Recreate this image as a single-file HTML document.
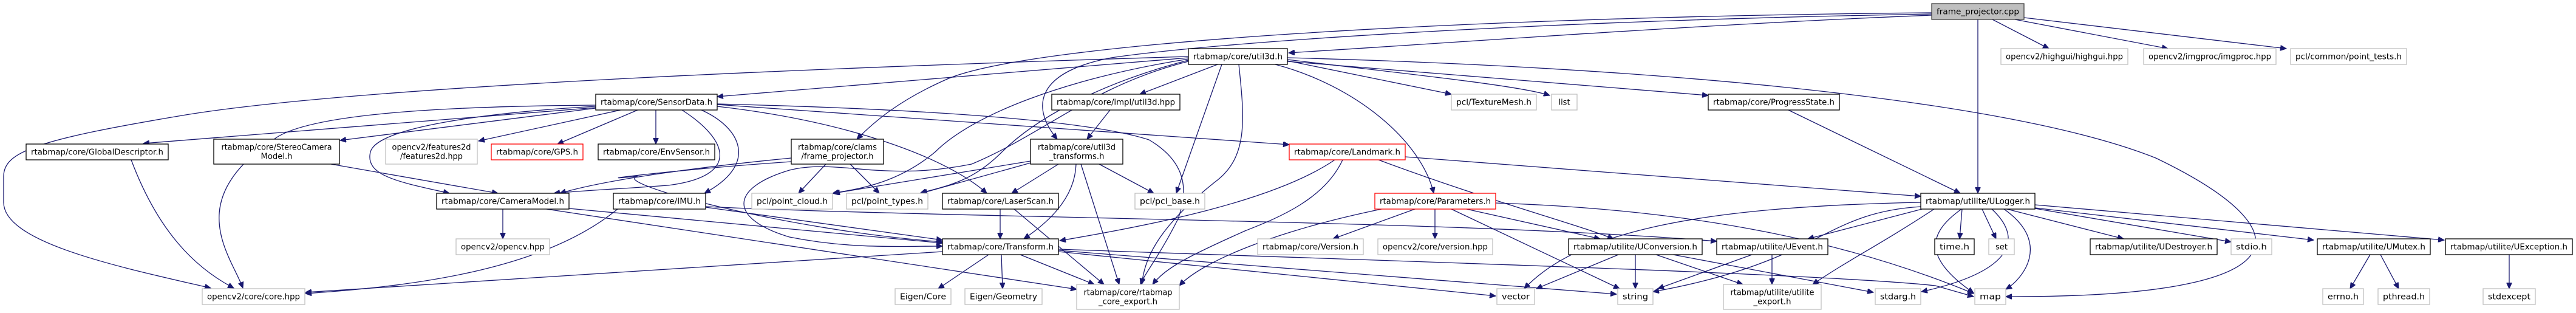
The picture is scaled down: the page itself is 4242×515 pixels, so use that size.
<!DOCTYPE html>
<html><head><meta charset="utf-8"><style>
html,body{margin:0;padding:0;background:#fff;}
svg{display:block;}
text{font-family:"DejaVu Sans","Liberation Sans",sans-serif;font-size:13px;fill:#000;}
.e{fill:none;stroke:#191970;stroke-width:1.3;}
.n{fill:#fff;stroke:#000;stroke-width:1.3;}
.g{fill:#fff;stroke:#bfbfbf;stroke-width:1.3;}
.r{fill:#fff;stroke:#ff0000;stroke-width:1.3;}
.root{fill:#bfbfbf;stroke:#404040;stroke-width:1.3;}
</style></head><body>
<svg width="4242" height="515" viewBox="0 0 4242 515" xmlns="http://www.w3.org/2000/svg">
<defs><marker id="a" markerUnits="userSpaceOnUse" markerWidth="11" markerHeight="9" refX="10" refY="4.5" orient="auto"><path d="M0,0 L10,4.5 L0,9 z" fill="#191970" stroke="#191970"/></marker></defs>
<g class="e" marker-end="url(#a)">
<!-- cpp -->
<path d="M3181,25 C2800,40 2400,70 2122,87"/>
<path d="M3181,21 C2400,28 1700,70 1560,130 C1480,165 1440,200 1411,229"/>
<path d="M3181,23 C2500,35 2000,70 1830,95 C1700,120 1700,180 1741,229"/>
<path d="M3257,32 L3257,318"/>
<path d="M3281,32 L3374,80"/>
<path d="M3318,32 L3570,80"/>
<path d="M3333,29 L3765,80"/>
<!-- util3d -->
<path d="M1957,95 L1181,159"/>
<path d="M1957,93 C1400,110 600,140 300,190 C60,230 6,250 6,290 L6,333 C6,400 200,440 347,474"/>
<path d="M2100,106 C2230,140 2340,230 2361,318"/>
<path d="M1957,97 C1750,130 1600,190 1540,250 C1480,300 1420,310 1371,318"/>
<path d="M1957,99 C1800,140 1700,200 1650,250 C1600,300 1560,305 1515,318"/>
<path d="M1957,101 C1800,140 1720,220 1600,270 C1450,300 1380,260 1300,280 C1200,310 1200,360 1300,390 C1400,410 1480,405 1552,405"/>
<path d="M2005,106 L1877,155"/>
<path d="M2012,106 L1937,318"/>
<path d="M2040,106 C2050,200 2055,260 2000,300 C1900,380 1885,430 1880,468"/>
<path d="M2120,100 L2390,155"/>
<path d="M2120,98 C2300,120 2500,140 2552,157"/>
<path d="M2120,101 L2813,157"/>
<path d="M2120,95 C2700,110 3300,160 3550,260 C3800,380 3800,490 3303,488"/>
<!-- SensorData -->
<path d="M981,177 L236,236"/>
<path d="M981,178 L560,231"/>
<path d="M1022,181 L788,232"/>
<path d="M1050,181 L918,237"/>
<path d="M1080,181 L1080,237"/>
<path d="M1155,181 C1220,210 1250,270 1160,318"/>
<path d="M1123,181 C1200,230 1220,290 1100,305 C1000,312 940,315 912,318"/>
<path d="M981,173 C700,175 500,190 450,230 C300,330 380,420 400,474"/>
<path d="M981,175 C800,185 620,210 610,250 C600,290 660,300 740,318"/>
<path d="M1181,175 C1400,200 1560,260 1625,318"/>
<path d="M1181,172 L2123,238"/>
<path d="M1181,171 C1550,180 1800,200 1892,230 C1960,270 1954,320 1940,360 C1910,420 1885,450 1878,468"/>
<!-- frame_projector.h -->
<path d="M1360,270 L1315,318"/>
<path d="M1400,270 L1448,318"/>
<path d="M1303,260 C1150,275 1000,295 922,318"/>
<path d="M1303,266 C1100,280 950,300 1050,290 C1000,300 1300,380 1552,398"/>
<!-- util3d_transforms -->
<path d="M1697,265 L1373,318"/>
<path d="M1697,268 L1517,318"/>
<path d="M1743,270 L1666,318"/>
<path d="M1772,270 C1770,330 1720,370 1686,393"/>
<path d="M1810,270 L1900,318"/>
<path d="M1780,270 L1843,468"/>
<path d="M1828,181 L1790,229"/>
<!-- misc -->
<path d="M545,270 L820,318"/>
<path d="M216,263 C260,380 320,440 385,474"/>
<path d="M828,344 L828,393"/>
<path d="M937,343 L1552,400"/>
<path d="M900,344 L1773,476"/>
<path d="M1017,344 C900,440 700,470 503,483"/>
<path d="M1162,341 L1552,395"/>
<path d="M1162,340 C1600,360 2400,362 2827,397"/>
<path d="M1647,344 L1647,393"/>
<path d="M1670,344 L1818,468"/>
<!-- Transform -->
<path d="M1628,419 L1545,475"/>
<path d="M1649,419 L1651,475"/>
<path d="M1680,419 L1802,468"/>
<path d="M1552,414 L503,481"/>
<path d="M1743,414 L2463,487"/>
<path d="M1743,412 L2662,484"/>
<path d="M1743,410 C2300,430 3000,450 3187,470 L3250,488"/>
<!-- Landmark -->
<path d="M2314,258 L3163,323"/>
<path d="M2198,263 C2100,330 1900,370 1745,396"/>
<path d="M2211,263 C2180,330 2100,360 2050,380 C1960,420 1920,440 1898,468"/>
<path d="M2270,263 C2450,330 2600,370 2657,393"/>
<!-- Parameters -->
<path d="M2330,344 L2195,393"/>
<path d="M2363,344 L2363,393"/>
<path d="M2415,344 L2635,393"/>
<path d="M2390,344 L2667,475"/>
<path d="M2275,344 C2100,380 1980,430 1942,470"/>
<path d="M2463,334 C2800,345 3050,400 3250,483"/>
<path d="M2945,181 L3228,318"/>
<!-- ULogger -->
<path d="M3231,344 L3227,393"/>
<path d="M3264,344 L3287,393"/>
<path d="M3305,344 L3497,393"/>
<path d="M3351,343 L3674,398"/>
<path d="M3351,342 L3810,395"/>
<path d="M3351,337 L4025,395"/>
<path d="M3280,344 C3340,400 3300,450 3164,480"/>
<path d="M3300,344 C3380,400 3330,460 3303,476"/>
<path d="M3230,344 C3180,380 3160,420 3250,482"/>
<path d="M3163,340 C3000,350 3000,430 2722,480"/>
<path d="M3163,333 C2800,340 2600,380 2510,475"/>
<path d="M3165,344 L2977,393"/>
<path d="M3185,344 C3100,400 3040,430 2985,468"/>
<!-- UConversion etc -->
<path d="M2665,419 L2530,475"/>
<path d="M2693,419 L2693,475"/>
<path d="M2727,419 L2870,468"/>
<path d="M2755,419 L3085,481"/>
<path d="M2885,419 L2730,475"/>
<path d="M2918,419 L2918,468"/>
<path d="M3903,419 L3870,475"/>
<path d="M3920,419 L3950,475"/>
<path d="M4132,419 L4132,475"/>
</g>
<!-- nodes -->
<rect class="root" x="3181" y="6" width="152" height="26"/><text x="3257" y="23.5" text-anchor="middle" textLength="136" lengthAdjust="spacingAndGlyphs">frame_projector.cpp</text>
<rect class="n" x="1957" y="80" width="163" height="26"/><text x="2038.5" y="97.5" text-anchor="middle" textLength="147" lengthAdjust="spacingAndGlyphs">rtabmap/core/util3d.h</text>
<rect class="g" x="3295" y="80" width="209" height="26"/><text x="3399.5" y="97.5" text-anchor="middle" textLength="193" lengthAdjust="spacingAndGlyphs">opencv2/highgui/highgui.hpp</text>
<rect class="g" x="3530" y="80" width="218" height="26"/><text x="3639" y="97.5" text-anchor="middle" textLength="202" lengthAdjust="spacingAndGlyphs">opencv2/imgproc/imgproc.hpp</text>
<rect class="g" x="3772" y="80" width="191" height="26"/><text x="3867.5" y="97.5" text-anchor="middle" textLength="175" lengthAdjust="spacingAndGlyphs">pcl/common/point_tests.h</text>
<rect class="n" x="981" y="155" width="200" height="26"/><text x="1081" y="172.5" text-anchor="middle" textLength="184" lengthAdjust="spacingAndGlyphs">rtabmap/core/SensorData.h</text>
<rect class="n" x="1732" y="155" width="211" height="26"/><text x="1837.5" y="172.5" text-anchor="middle" textLength="195" lengthAdjust="spacingAndGlyphs">rtabmap/core/impl/util3d.hpp</text>
<rect class="g" x="2390" y="155" width="140" height="26"/><text x="2460" y="172.5" text-anchor="middle" textLength="124" lengthAdjust="spacingAndGlyphs">pcl/TextureMesh.h</text>
<rect class="g" x="2555" y="155" width="42" height="26"/><text x="2576" y="172.5" text-anchor="middle">list</text>
<rect class="n" x="2813" y="155" width="216" height="26"/><text x="2921" y="172.5" text-anchor="middle" textLength="200" lengthAdjust="spacingAndGlyphs">rtabmap/core/ProgressState.h</text>
<rect class="n" x="43" y="237" width="234" height="26"/><text x="160" y="254.5" text-anchor="middle" textLength="218" lengthAdjust="spacingAndGlyphs">rtabmap/core/GlobalDescriptor.h</text>
<rect class="n" x="352" y="229" width="207" height="41"/><text x="455.5" y="246.5" text-anchor="middle" textLength="182" lengthAdjust="spacingAndGlyphs">rtabmap/core/StereoCamera</text><text x="455.5" y="261.5" text-anchor="middle" textLength="52" lengthAdjust="spacingAndGlyphs">Model.h</text>
<rect class="g" x="635" y="229" width="151" height="41"/><text x="710.5" y="246.5" text-anchor="middle" textLength="130" lengthAdjust="spacingAndGlyphs">opencv2/features2d</text><text x="710.5" y="261.5" text-anchor="middle" textLength="103" lengthAdjust="spacingAndGlyphs">/features2d.hpp</text>
<rect class="r" x="809" y="237" width="151" height="26"/><text x="884.5" y="254.5" text-anchor="middle" textLength="135" lengthAdjust="spacingAndGlyphs">rtabmap/core/GPS.h</text>
<rect class="n" x="985" y="237" width="192" height="26"/><text x="1081" y="254.5" text-anchor="middle" textLength="176" lengthAdjust="spacingAndGlyphs">rtabmap/core/EnvSensor.h</text>
<rect class="n" x="1303" y="229" width="152" height="41"/><text x="1379" y="246.5" text-anchor="middle" textLength="130" lengthAdjust="spacingAndGlyphs">rtabmap/core/clams</text><text x="1379" y="261.5" text-anchor="middle" textLength="119" lengthAdjust="spacingAndGlyphs">/frame_projector.h</text>
<rect class="n" x="1697" y="229" width="152" height="41"/><text x="1773" y="246.5" text-anchor="middle" textLength="128" lengthAdjust="spacingAndGlyphs">rtabmap/core/util3d</text><text x="1773" y="261.5" text-anchor="middle" textLength="91" lengthAdjust="spacingAndGlyphs">_transforms.h</text>
<rect class="r" x="2123" y="237" width="191" height="26"/><text x="2218.5" y="254.5" text-anchor="middle" textLength="175" lengthAdjust="spacingAndGlyphs">rtabmap/core/Landmark.h</text>
<rect class="n" x="719" y="318" width="218" height="26"/><text x="828" y="335.5" text-anchor="middle" textLength="202" lengthAdjust="spacingAndGlyphs">rtabmap/core/CameraModel.h</text>
<rect class="n" x="1010" y="318" width="152" height="26"/><text x="1086" y="335.5" text-anchor="middle" textLength="136" lengthAdjust="spacingAndGlyphs">rtabmap/core/IMU.h</text>
<rect class="g" x="1238" y="318" width="133" height="26"/><text x="1304.5" y="335.5" text-anchor="middle" textLength="117" lengthAdjust="spacingAndGlyphs">pcl/point_cloud.h</text>
<rect class="g" x="1394" y="318" width="134" height="26"/><text x="1461" y="335.5" text-anchor="middle" textLength="118" lengthAdjust="spacingAndGlyphs">pcl/point_types.h</text>
<rect class="n" x="1552" y="318" width="191" height="26"/><text x="1647.5" y="335.5" text-anchor="middle" textLength="175" lengthAdjust="spacingAndGlyphs">rtabmap/core/LaserScan.h</text>
<rect class="g" x="1869" y="318" width="115" height="26"/><text x="1926.5" y="335.5" text-anchor="middle" textLength="99" lengthAdjust="spacingAndGlyphs">pcl/pcl_base.h</text>
<rect class="r" x="2264" y="318" width="199" height="26"/><text x="2363.5" y="335.5" text-anchor="middle" textLength="183" lengthAdjust="spacingAndGlyphs">rtabmap/core/Parameters.h</text>
<rect class="n" x="3163" y="318" width="188" height="26"/><text x="3257" y="335.5" text-anchor="middle" textLength="172" lengthAdjust="spacingAndGlyphs">rtabmap/utilite/ULogger.h</text>
<rect class="g" x="751" y="393" width="154" height="26"/><text x="828" y="410.5" text-anchor="middle" textLength="138" lengthAdjust="spacingAndGlyphs">opencv2/opencv.hpp</text>
<rect class="n" x="1552" y="393" width="191" height="26"/><text x="1647.5" y="410.5" text-anchor="middle" textLength="175" lengthAdjust="spacingAndGlyphs">rtabmap/core/Transform.h</text>
<rect class="g" x="2071" y="393" width="174" height="26"/><text x="2158" y="410.5" text-anchor="middle" textLength="158" lengthAdjust="spacingAndGlyphs">rtabmap/core/Version.h</text>
<rect class="g" x="2269" y="393" width="189" height="26"/><text x="2363.5" y="410.5" text-anchor="middle" textLength="173" lengthAdjust="spacingAndGlyphs">opencv2/core/version.hpp</text>
<rect class="n" x="2583" y="393" width="220" height="26"/><text x="2693" y="410.5" text-anchor="middle" textLength="204" lengthAdjust="spacingAndGlyphs">rtabmap/utilite/UConversion.h</text>
<rect class="n" x="2827" y="393" width="183" height="26"/><text x="2918.5" y="410.5" text-anchor="middle" textLength="167" lengthAdjust="spacingAndGlyphs">rtabmap/utilite/UEvent.h</text>
<rect class="n" x="3186" y="393" width="65" height="26"/><text x="3218.5" y="410.5" text-anchor="middle" textLength="49" lengthAdjust="spacingAndGlyphs">time.h</text>
<rect class="g" x="3275" y="393" width="42" height="26"/><text x="3296" y="410.5" text-anchor="middle">set</text>
<rect class="n" x="3442" y="393" width="209" height="26"/><text x="3546.5" y="410.5" text-anchor="middle" textLength="193" lengthAdjust="spacingAndGlyphs">rtabmap/utilite/UDestroyer.h</text>
<rect class="g" x="3674" y="393" width="67" height="26"/><text x="3707.5" y="410.5" text-anchor="middle" textLength="51" lengthAdjust="spacingAndGlyphs">stdio.h</text>
<rect class="n" x="3816" y="393" width="186" height="26"/><text x="3909" y="410.5" text-anchor="middle" textLength="170" lengthAdjust="spacingAndGlyphs">rtabmap/utilite/UMutex.h</text>
<rect class="n" x="4027" y="393" width="209" height="26"/><text x="4131.5" y="410.5" text-anchor="middle" textLength="193" lengthAdjust="spacingAndGlyphs">rtabmap/utilite/UException.h</text>
<rect class="g" x="333" y="475" width="169" height="26"/><text x="417.5" y="492.5" text-anchor="middle" textLength="153" lengthAdjust="spacingAndGlyphs">opencv2/core/core.hpp</text>
<rect class="g" x="1474" y="475" width="92" height="26"/><text x="1520" y="492.5" text-anchor="middle" textLength="76" lengthAdjust="spacingAndGlyphs">Eigen/Core</text>
<rect class="g" x="1589" y="475" width="127" height="26"/><text x="1652.5" y="492.5" text-anchor="middle" textLength="111" lengthAdjust="spacingAndGlyphs">Eigen/Geometry</text>
<rect class="g" x="1773" y="468" width="169" height="41"/><text x="1857.5" y="485.5" text-anchor="middle" textLength="146" lengthAdjust="spacingAndGlyphs">rtabmap/core/rtabmap</text><text x="1857.5" y="500.5" text-anchor="middle" textLength="97" lengthAdjust="spacingAndGlyphs">_core_export.h</text>
<rect class="g" x="2465" y="475" width="62" height="26"/><text x="2496" y="492.5" text-anchor="middle" textLength="46" lengthAdjust="spacingAndGlyphs">vector</text>
<rect class="g" x="2664" y="475" width="58" height="26"/><text x="2693" y="492.5" text-anchor="middle" textLength="42" lengthAdjust="spacingAndGlyphs">string</text>
<rect class="g" x="2838" y="468" width="161" height="41"/><text x="2918.5" y="485.5" text-anchor="middle" textLength="138" lengthAdjust="spacingAndGlyphs">rtabmap/utilite/utilite</text><text x="2918.5" y="500.5" text-anchor="middle" textLength="62" lengthAdjust="spacingAndGlyphs">_export.h</text>
<rect class="g" x="3088" y="475" width="75" height="26"/><text x="3125.5" y="492.5" text-anchor="middle" textLength="59" lengthAdjust="spacingAndGlyphs">stdarg.h</text>
<rect class="g" x="3252" y="475" width="51" height="26"/><text x="3277.5" y="492.5" text-anchor="middle" textLength="35" lengthAdjust="spacingAndGlyphs">map</text>
<rect class="g" x="3825" y="475" width="67" height="26"/><text x="3858.5" y="492.5" text-anchor="middle" textLength="51" lengthAdjust="spacingAndGlyphs">errno.h</text>
<rect class="g" x="3916" y="475" width="85" height="26"/><text x="3958.5" y="492.5" text-anchor="middle" textLength="69" lengthAdjust="spacingAndGlyphs">pthread.h</text>
<rect class="g" x="4089" y="475" width="86" height="26"/><text x="4132" y="492.5" text-anchor="middle" textLength="70" lengthAdjust="spacingAndGlyphs">stdexcept</text>
</svg>
</body></html>
